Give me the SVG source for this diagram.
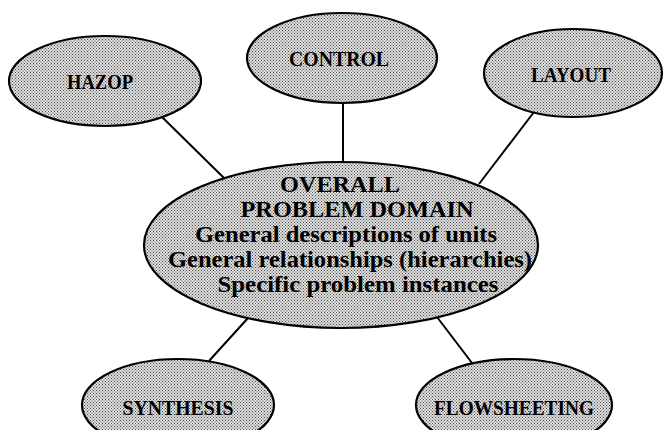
<svg xmlns="http://www.w3.org/2000/svg" width="665" height="430" viewBox="0 0 665 430">
<defs>
<pattern id="dots" patternUnits="userSpaceOnUse" width="3" height="3">
<rect width="3" height="3" fill="#dedede"/>
<rect x="0" y="0" width="1" height="1" fill="#4a4a4a"/>
<rect x="1.5" y="1.5" width="1" height="1" fill="#4a4a4a"/>
</pattern>
</defs>
<style>
.node ellipse { fill: url(#dots); stroke: #000; stroke-width: 2.2; }
.lbl { font-family: "Liberation Serif", "Times New Roman", serif; font-weight: bold; font-size: 21px; fill: #000; text-anchor: middle; }
.big { font-family: "Liberation Serif", "Times New Roman", serif; font-weight: bold; font-size: 23px; fill: #000; text-anchor: middle; }
.conn line { stroke: #000; stroke-width: 2; }
</style>
<rect width="665" height="430" fill="#fff"/>
<g id="connectors" class="conn">
<line x1="162" y1="117" x2="224" y2="178"/>
<line x1="343" y1="103" x2="343" y2="162"/>
<line x1="534" y1="112" x2="479" y2="184"/>
<line x1="248" y1="318" x2="209" y2="361"/>
<line x1="437" y1="317" x2="472" y2="363"/>
</g>
<g id="hazop" class="node">
<ellipse cx="105" cy="81" rx="96" ry="45"/>
<text class="lbl" x="100" y="89" textLength="66" lengthAdjust="spacingAndGlyphs">HAZOP</text>
</g>
<g id="control" class="node">
<ellipse cx="342" cy="58" rx="95" ry="45"/>
<text class="lbl" x="339" y="66" textLength="100" lengthAdjust="spacingAndGlyphs">CONTROL</text>
</g>
<g id="layout" class="node">
<ellipse cx="573" cy="73" rx="89" ry="44"/>
<text class="lbl" x="571" y="82" textLength="80" lengthAdjust="spacingAndGlyphs">LAYOUT</text>
</g>
<g id="overall" class="node">
<ellipse cx="341" cy="245" rx="197" ry="83"/>
<text class="big" x="340" y="192" textLength="120" lengthAdjust="spacingAndGlyphs">OVERALL</text>
<text class="big" x="357" y="217" textLength="233" lengthAdjust="spacingAndGlyphs">PROBLEM DOMAIN</text>
<text class="big" x="346" y="242" textLength="302" lengthAdjust="spacingAndGlyphs">General descriptions of units</text>
<text class="big" x="350" y="267" textLength="364" lengthAdjust="spacingAndGlyphs">General relationships (hierarchies)</text>
<text class="big" x="358" y="292" textLength="281" lengthAdjust="spacingAndGlyphs">Specific problem instances</text>
</g>
<g id="synthesis" class="node">
<ellipse cx="178" cy="405" rx="96" ry="46"/>
<text class="lbl" x="178" y="415" textLength="111" lengthAdjust="spacingAndGlyphs">SYNTHESIS</text>
</g>
<g id="flowsheeting" class="node">
<ellipse cx="514" cy="405" rx="98" ry="46"/>
<text class="lbl" x="514" y="415" textLength="160" lengthAdjust="spacingAndGlyphs">FLOWSHEETING</text>
</g>
</svg>
